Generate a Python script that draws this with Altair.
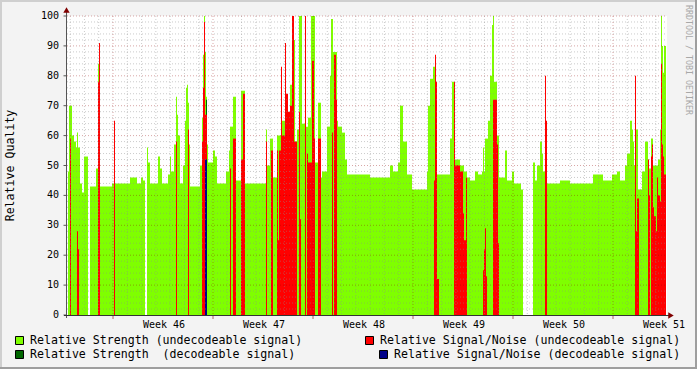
import altair as alt
import pandas as pd

# ---- data: one sample per RRA step, run-length encoded as (start, end, value) ----
strength_undecodeable = [
    (1, 2, 48), (2, 5, 70), (5, 7, 60), (7, 9, 58), (9, 10, 56), (10, 11, 61), (11, 13, 56),
    (13, 15, 44), (15, 17, 41), (17, 21, 53), (23, 29, 43), (29, 31, 49), (31, 32, 84),
    (32, 45, 43), (45, 63, 44), (63, 70, 46), (70, 74, 44), (74, 76, 46), (76, 78, 45),
    (80, 81, 56), (81, 83, 51), (83, 91, 44), (91, 93, 53), (93, 95, 49), (95, 101, 44),
    (101, 103, 47), (103, 104, 53), (104, 107, 48), (107, 109, 57), (109, 110, 73),
    (110, 111, 67), (111, 113, 60), (113, 116, 44), (116, 118, 50), (118, 119, 65),
    (119, 120, 76), (120, 121, 77), (121, 122, 71), (122, 123, 57), (123, 133, 43),
    (133, 135, 50), (135, 136, 66), (136, 137, 87), (137, 138, 100), (138, 139, 88),
    (139, 140, 73), (140, 141, 57), (141, 146, 51), (146, 148, 55), (148, 150, 53),
    (150, 159, 44), (159, 162, 48), (162, 163, 55), (163, 166, 63), (166, 169, 73),
    (169, 174, 45), (174, 178, 75), (178, 199, 44), (199, 200, 62), (200, 203, 50),
    (203, 206, 59), (206, 210, 46), (210, 215, 60), (215, 223, 65), (223, 225, 77),
    (225, 228, 92), (228, 230, 58), (230, 232, 62), (232, 235, 100), (235, 238, 64),
    (238, 239, 60), (239, 241, 63), (241, 244, 66), (244, 248, 100), (248, 251, 51),
    (251, 254, 71), (254, 255, 46), (255, 260, 48), (260, 263, 63), (263, 264, 80),
    (264, 266, 99), (266, 270, 88), (270, 271, 65), (271, 275, 63), (275, 278, 61),
    (278, 280, 52), (280, 303, 47), (303, 323, 46), (323, 326, 50), (326, 331, 48),
    (331, 333, 51), (333, 336, 70), (336, 340, 58), (340, 345, 47), (345, 360, 42),
    (360, 361, 48), (361, 363, 70), (363, 366, 79), (366, 368, 83), (368, 383, 47),
    (383, 385, 59), (385, 387, 78), (387, 393, 52), (393, 397, 50), (397, 400, 48),
    (400, 403, 46), (403, 408, 45), (408, 411, 48), (411, 415, 47), (415, 416, 48),
    (416, 417, 56), (417, 418, 48), (418, 421, 59), (421, 423, 65), (423, 425, 80),
    (425, 426, 97), (426, 427, 100), (427, 430, 78), (430, 432, 60), (432, 438, 46),
    (438, 440, 55), (440, 445, 45), (445, 447, 48), (447, 454, 44), (454, 456, 42),
    (466, 468, 51), (468, 470, 45), (470, 473, 50), (473, 475, 58), (475, 476, 54),
    (476, 478, 48), (478, 480, 63), (480, 493, 44), (493, 503, 45), (503, 526, 44),
    (526, 536, 47), (536, 545, 45), (545, 550, 47), (550, 553, 48), (553, 558, 45),
    (558, 560, 50), (560, 563, 54), (563, 565, 65), (565, 566, 62), (566, 567, 58),
    (567, 569, 50), (569, 571, 62), (571, 575, 42), (575, 578, 48), (578, 581, 58),
    (581, 582, 52), (582, 584, 49), (584, 586, 59), (586, 591, 50), (591, 593, 52),
    (593, 594, 62), (594, 595, 100), (595, 596, 90), (596, 597, 81), (597, 599, 90),
]
snr_undecodeable = [
    (3, 4, 59), (10, 11, 28), (11, 12, 22), (31, 32, 78), (32, 33, 91), (47, 48, 65),
    (109, 110, 58), (121, 122, 62), (135, 136, 58), (136, 137, 76), (137, 138, 98),
    (138, 140, 67), (163, 164, 49), (166, 169, 59), (174, 176, 52), (176, 178, 74),
    (199, 200, 58), (204, 206, 55), (210, 211, 55), (211, 212, 25), (212, 214, 55),
    (214, 215, 83), (215, 218, 60), (218, 219, 91), (219, 221, 74), (221, 223, 68),
    (223, 225, 70), (225, 227, 100), (227, 230, 58), (232, 233, 68), (233, 234, 32),
    (238, 239, 100), (240, 241, 54), (241, 245, 51), (245, 247, 85), (247, 248, 59),
    (251, 254, 59), (265, 266, 61), (267, 269, 87), (269, 270, 72), (367, 368, 45),
    (368, 369, 87), (369, 370, 78), (370, 372, 12), (387, 388, 78), (388, 393, 50),
    (393, 396, 48), (396, 397, 34), (397, 399, 25), (399, 400, 46), (416, 417, 15),
    (417, 418, 22), (418, 419, 29), (419, 420, 13), (426, 430, 72), (430, 431, 57),
    (431, 432, 24), (478, 479, 80), (479, 480, 65), (568, 569, 80), (569, 570, 28),
    (570, 572, 39), (581, 582, 52), (582, 583, 40), (584, 585, 53), (585, 586, 57),
    (586, 587, 36), (587, 589, 33), (589, 590, 28), (590, 591, 46), (591, 593, 40),
    (593, 594, 38), (594, 595, 84), (595, 596, 57), (596, 597, 53), (597, 599, 47),
]
strength_decodeable = [(139, 140, 72)]
snr_decodeable = [(138, 140, 52)]

week_numbers = [46, 47, 48, 49, 50, 51]
week_centres = [97, 197, 297, 397, 497, 597]   # sample index of mid-week
week_starts = [46, 146, 246, 346, 446, 546]     # sample index of Monday 00:00
samples_per_day = 100 / 7
y_ticks = list(range(0, 101, 10))

legend_labels = [
    "Relative Strength (undecodeable signal)",
    "Relative Strength \u00a0(decodeable signal)",
    "Relative Signal/Noise (undecodeable signal)",
    "Relative Signal/Noise (decodeable signal)",
]
legend_colors = ["#7fff00", "#006600", "#ff0000", "#000088"]

FONT = "DejaVu Sans Mono"
W, H = 600, 299
xs = alt.Scale(domain=[0, 600], nice=False, zero=False)
ys = alt.Scale(domain=[0, 100], nice=False, zero=False)


def seg_df(segs):
    df = pd.DataFrame(segs, columns=["t0", "t1", "v"])
    return df[df.v > 0]


def bars(segs, color):
    return alt.Chart(seg_df(segs)).mark_rect(color=color).encode(
        x=alt.X("t0:Q", scale=xs, axis=None), x2="t1:Q",
        y=alt.Y("v:Q", scale=ys, axis=None), y2=alt.datum(0))


green = bars(strength_undecodeable, legend_colors[0])
dark_green = bars(strength_decodeable, legend_colors[1])
red = bars(snr_undecodeable, legend_colors[2])
blue = bars(snr_decodeable, legend_colors[3])

# grid (drawn over the data, as rrdtool does)
minor_h_vals = [v for v in range(2, 100, 2) if v % 10]
major_h_vals = [v for v in range(10, 101, 10)]
day_lines = [week_starts[0] + k * samples_per_day for k in range(-3, 40)]
minor_v_vals = [t for t in day_lines if 0 < t < 600 and all(abs(t - s) > 1 for s in week_starts)]


def hgrid(vals, color, op):
    return alt.Chart(pd.DataFrame({"g": vals})).mark_rule(color=color, opacity=op, strokeDash=[1, 2]).encode(
        y=alt.Y("g:Q", scale=ys, axis=None), x=alt.value(0), x2=alt.value(W))


def vgrid(vals, color, op):
    return alt.Chart(pd.DataFrame({"g": vals})).mark_rule(color=color, opacity=op, strokeDash=[1, 2]).encode(
        x=alt.X("g:Q", scale=xs, axis=None), y=alt.value(0), y2=alt.value(H))


grid = [hgrid(minor_h_vals, "#8c8c8c", 0.45), vgrid(minor_v_vals, "#8c8c8c", 0.45),
        hgrid(major_h_vals, "#900000", 0.35), vgrid(week_starts, "#900000", 0.35)]

one = pd.DataFrame({"a": [0]})

# axes (drawn by hand, rrdtool style)
y_labels = alt.Chart(pd.DataFrame({"v": y_ticks, "lab": [str(v) for v in y_ticks]})).mark_text(
    font=FONT, fontSize=10, align="right", baseline="middle", color="black").encode(
    y=alt.Y("v:Q", scale=ys, axis=None), x=alt.value(-8), text="lab:N")
y_tick_marks = alt.Chart(pd.DataFrame({"v": y_ticks})).mark_rule(color="#555555").encode(
    y=alt.Y("v:Q", scale=ys, axis=None), x=alt.value(-3.5), x2=alt.value(-0.5))
x_labels = alt.Chart(pd.DataFrame({"c": week_centres, "lab": [f"Week {n}" for n in week_numbers]})).mark_text(
    font=FONT, fontSize=10, align="center", baseline="middle", color="black").encode(
    x=alt.X("c:Q", scale=xs, axis=None), y=alt.value(H + 9.5), text="lab:N")
major_ticks = alt.Chart(pd.DataFrame({"g": week_starts})).mark_rule(color="#b06060").encode(
    x=alt.X("g:Q", scale=xs, axis=None), y=alt.value(H + 1), y2=alt.value(H + 4))
y_line = alt.Chart(one).mark_rule(color="#555555").encode(
    x=alt.value(-0.5), y=alt.value(-6), y2=alt.value(H + 3))
x_line = alt.Chart(one).mark_rule(color="#333333").encode(
    x=alt.value(-3), x2=alt.value(W + 4), y=alt.value(H + 0.5))
arrow_up = alt.Chart(one).mark_point(shape="triangle-up", filled=True, size=40, color="#800000", opacity=1).encode(
    x=alt.value(-0.5), y=alt.value(-6))
arrow_right = alt.Chart(one).mark_point(shape="triangle-right", filled=True, size=40, color="#800000", opacity=1).encode(
    x=alt.value(W + 4), y=alt.value(H + 0.5))

y_title = alt.Chart(one).mark_text(angle=270, font=FONT, fontSize=11.6, align="center", baseline="middle",
                                   color="black").encode(
    x=alt.value(-56.5), y=alt.value(H / 2), text=alt.value("Relative Quality"))
watermark = alt.Chart(one).mark_text(angle=90, font=FONT, fontSize=8.3, align="center", baseline="middle",
                                     color="#a8a8a8").encode(
    x=alt.value(621), y=alt.value(44), text=alt.value("RRDTOOL / TOBI OETIKER"))

# frame shading
frame = [
    alt.Chart(one).mark_rule(color="#cfcfcf", strokeWidth=2).encode(x=alt.value(-67), x2=alt.value(630), y=alt.value(-15)),
    alt.Chart(one).mark_rule(color="#cfcfcf", strokeWidth=2).encode(x=alt.value(-66), y=alt.value(-16), y2=alt.value(353)),
    alt.Chart(one).mark_rule(color="#9e9e9e", strokeWidth=2).encode(x=alt.value(-67), x2=alt.value(630), y=alt.value(352)),
    alt.Chart(one).mark_rule(color="#9e9e9e", strokeWidth=2).encode(x=alt.value(629), y=alt.value(-16), y2=alt.value(353)),
]

# legend (rrdtool style: two columns, right column right-justified)
legend_layers = []
sq_x = [-51.5, -51.5, 298.5, 312.5]
tx_x = [-37, -37, 313, 327]
row_y = [325, 339, 325, 339]
for lab, col, sx, tx, ry in zip(legend_labels, legend_colors, sq_x, tx_x, row_y):
    legend_layers.append(alt.Chart(one).mark_rect(fill=col, stroke="black", strokeWidth=1).encode(
        x=alt.value(sx), x2=alt.value(sx + 8), y=alt.value(ry - 4.5), y2=alt.value(ry + 3.5)))
    legend_layers.append(alt.Chart(one).mark_text(font=FONT, fontSize=11.6, align="left", baseline="middle",
                                                  color="black").encode(
        x=alt.value(tx), y=alt.value(ry), text=alt.value(lab)))

chart = alt.layer(
    green, dark_green, red, blue, *grid, y_tick_marks, major_ticks, y_line, x_line, arrow_up, arrow_right,
    y_labels, x_labels, y_title, watermark, *frame, *legend_layers
).properties(
    width=W, height=H,
    padding={"left": 67, "top": 16, "right": 30, "bottom": 54},
    autosize=alt.AutoSizeParams(type="none"),
).configure(background="#f3f3f3").configure_view(fill="white", stroke=None)

chart.save("out.html", embed_options={"renderer": "svg", "actions": False})
